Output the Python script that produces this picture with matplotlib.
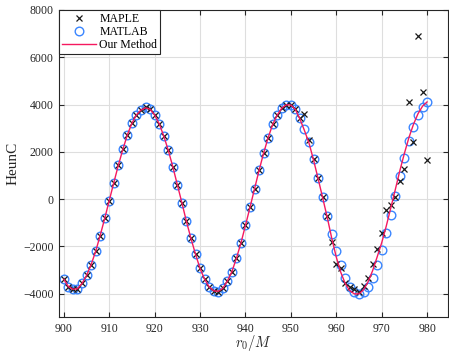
import numpy as np
import matplotlib
matplotlib.use("Agg")
import matplotlib.pyplot as plt

plt.rcParams['font.family'] = ['Liberation Serif', 'DejaVu Serif']
plt.rcParams['mathtext.fontset'] = 'cm'

r0 = np.arange(900, 981)

matlab = [
    -3390, -3700, -3815, -3790, -3570, -3230, -2780, -2215, -1540, -820,
    -60, 690, 1430, 2105, 2725, 3210, 3565, 3770, 3890, 3800,
    3555, 3190, 2675, 2065, 1370, 606, -155, -945, -1665, -2330,
    -2935, -3385, -3710, -3880, -3910, -3780, -3470, -3075, -2510, -1860,
    -1115, -350, 436, 1215, 1945, 2600, 3160, 3555, 3860, 4000,
    3990, 3815, 3435, 2955, 2400, 1680, 910, 100, -710, -1480,
    -2200, -2800, -3320, -3700, -3930, -4030, -3920, -3710, -3330, -2793,
    -2158, -1452, -660, 150, 980, 1755, 2467, 3060, 3555, 3906,
    4110,
]

maple = [
    -3390, -3700, -3815, -3790, -3570, -3230, -2780, -2215, -1540, -820,
    -60, 690, 1430, 2105, 2725, 3210, 3565, 3770, 3890, 3800,
    3555, 3190, 2675, 2065, 1370, 606, -155, -945, -1665, -2330,
    -2935, -3385, -3710, -3880, -3910, -3780, -3470, -3075, -2510, -1860,
    -1115, -350, 436, 1215, 1945, 2600, 3160, 3555, 3860, 4000,
    3990, 3815, 3435, 3600, 2500, 1680, 910, 100, -710, -1806,
    -2740, -2930, -3550, -3710, -3790, -3950, -3690, -3350, -2750, -2130,
    -1452, -466, -254, 99, 762, 1270, 4092, 2426, 6898, 4515,
    1650,
]

our_method = [
    -3390, -3700, -3815, -3790, -3570, -3230, -2780, -2215, -1540, -820,
    -60, 690, 1430, 2105, 2725, 3210, 3565, 3770, 3860, 3800,
    3555, 3190, 2675, 2065, 1370, 606, -155, -945, -1665, -2330,
    -2935, -3385, -3710, -3880, -3900, -3780, -3470, -3075, -2510, -1860,
    -1115, -350, 436, 1215, 1945, 2600, 3160, 3555, 3850, 3990,
    3980, 3790, 3390, 2900, 2370, 1650, 870, 60, -760, -1650,
    -2450, -3100, -3580, -3880, -4010, -4010, -3840, -3500, -3030, -2450,
    -1850, -1150, -380, 400, 1200, 1930, 2600, 3160, 3610, 3930,
    4110,
]

x_ticks = [900, 910, 920, 930, 940, 950, 960, 970, 980]
y_ticks = [-4000, -2000, 0, 2000, 4000, 6000, 8000]

fig = plt.figure(figsize=(4.49, 3.52), dpi=100)
ax = fig.add_axes([59.3 / 449, 1 - 317.3 / 352, (447.5 - 59.3) / 449, (317.3 - 10) / 352])

dark = '#262626'
ax.plot(r0, maple, linestyle='none', marker='x', color='#1a1a1a',
        markersize=4.0, markeredgewidth=0.9, label='MAPLE', zorder=3)
ax.plot(r0, matlab, linestyle='none', marker='o', markerfacecolor='none',
        markeredgecolor='#3a86ff', markersize=6.2, markeredgewidth=1.0,
        label='MATLAB', zorder=2)
ax.plot(r0, our_method, color='#f5195f', linewidth=1.0, label='Our Method', zorder=4)

ax.set_xlim(899, 984.5)
ax.set_ylim(-5000, 8000)
ax.set_xticks(x_ticks)
ax.set_yticks(y_ticks)
ax.grid(True, color='#dedede', linewidth=0.8)
ax.set_axisbelow(True)
ax.tick_params(direction='in', top=True, right=True, length=3.5, width=0.8,
               labelsize=8.5, colors=dark, labelcolor=dark, pad=4)
for s in ax.spines.values():
    s.set_color(dark)
    s.set_linewidth(0.8)

ax.set_xlabel(r'$r_0/M$', fontsize=10.5, color=dark, labelpad=-1)
ax.set_ylabel('HeunC', fontsize=11, color=dark, labelpad=3)

leg = ax.legend(loc='upper left', fontsize=8.5, frameon=True, fancybox=False,
                edgecolor=dark, framealpha=1, borderaxespad=0.0,
                handlelength=2.9, borderpad=0.25, labelspacing=0.08,
                handletextpad=0.25)
leg.get_frame().set_linewidth(0.8)

fig.savefig('out.png', dpi=100)
